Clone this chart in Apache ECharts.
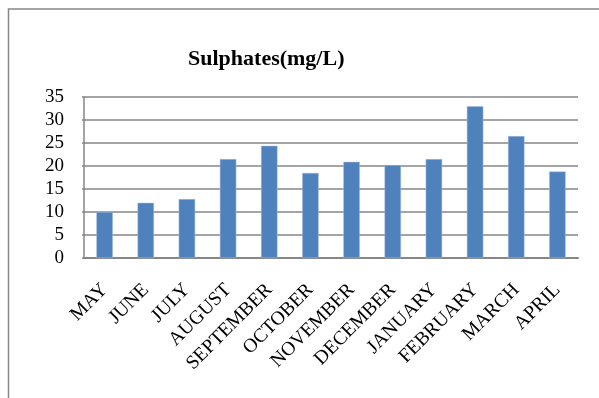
<!DOCTYPE html>
<html><head><meta charset="utf-8">
<script src="https://cdn.jsdelivr.net/npm/echarts@6/dist/echarts.min.js"></script>
<style>html,body{margin:0;padding:0;background:#fff}#c{width:599px;height:398px}</style>
</head><body><div id="c"></div>
<script>
const titleText = 'Sulphates(mg/L)';
const categories = ['MAY','JUNE','JULY','AUGUST','SEPTEMBER','OCTOBER','NOVEMBER','DECEMBER','JANUARY','FEBRUARY','MARCH','APRIL'];
const values = [10, 12, 12.8, 21.5, 24.4, 18.5, 20.9, 20.2, 21.5, 33.0, 26.5, 18.8];
const yTicks = {min: 0, max: 35, interval: 5};

const chart = echarts.init(document.getElementById('c'), null, {renderer: 'canvas'});
chart.setOption({
  animation: false,
  backgroundColor: '#fff',
  graphic: [{
    type: 'rect', shape: {x: 8.5, y: 9, width: 620, height: 420},
    style: {fill: 'none', stroke: '#888', lineWidth: 1.5}, silent: true
  }],
  title: {
    text: titleText, left: 183, top: 43,
    textStyle: {fontFamily: 'Liberation Serif', fontWeight: 'bold', fontSize: 22, color: '#000'}
  },
  grid: {left: 84, right: 21, top: 97, bottom: 140, containLabel: false},
  xAxis: {
    type: 'category', data: categories,
    axisLine: {show: true, lineStyle: {color: '#868686', width: 2}},
    axisTick: {show: false},
    axisLabel: {rotate: 45, interval: 0, margin: 29, fontFamily: 'Liberation Serif', fontSize: 19.5, color: '#000'}
  },
  yAxis: {
    type: 'value', min: yTicks.min, max: yTicks.max, interval: yTicks.interval,
    axisLine: {show: true, lineStyle: {color: '#868686', width: 1.5}},
    axisTick: {show: true, inside: false, length: 2, lineStyle: {color: '#868686', width: 1.5}},
    splitLine: {show: true, lineStyle: {color: '#868686', width: 1.5}},
    axisLabel: {margin: 20, fontFamily: 'Liberation Serif', fontSize: 19, color: '#000'}
  },
  series: [{
    type: 'bar', data: values, barWidth: '40%',
    itemStyle: {color: '#4F81BD', borderColor: '#A9C0DE', borderWidth: 0.5}
  }]
});
</script></body></html>
